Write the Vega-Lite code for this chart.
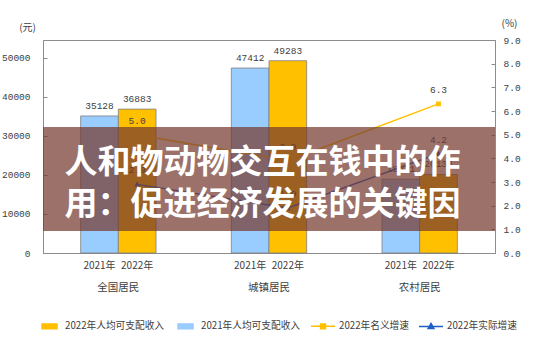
{
  "$schema": "https://vega.github.io/schema/vega-lite/v6.json",
  "width": 452,
  "height": 213,
  "autosize": {"type": "none"},
  "padding": {"left": 43, "top": 40, "right": 40, "bottom": 106},
  "background": "white",
  "config": {
    "view": {"stroke": "#8c8c8c", "strokeWidth": 1},
    "font": "Noto Sans CJK SC",
    "axis": {"domainColor": "#8c8c8c", "tickColor": "#8c8c8c", "labelColor": "#404040", "grid": false, "titleFontWeight": "normal", "titleColor": "#404040", "labelOverlap": false}
  },
  "datasets": {
    "income": [
      {"group": "全国居民", "year": "2021年", "series": "2021年人均可支配收入", "income": 35128},
      {"group": "全国居民", "year": "2022年", "series": "2022年人均可支配收入", "income": 36883},
      {"group": "城镇居民", "year": "2021年", "series": "2021年人均可支配收入", "income": 47412},
      {"group": "城镇居民", "year": "2022年", "series": "2022年人均可支配收入", "income": 49283},
      {"group": "农村居民", "year": "2021年", "series": "2021年人均可支配收入", "income": 18931},
      {"group": "农村居民", "year": "2022年", "series": "2022年人均可支配收入", "income": 20133}
    ],
    "growth": [
      {"group": "全国居民", "series": "2022年名义增速", "rate": 5.0},
      {"group": "城镇居民", "series": "2022年名义增速", "rate": 3.9},
      {"group": "农村居民", "series": "2022年名义增速", "rate": 6.3},
      {"group": "全国居民", "series": "2022年实际增速", "rate": 2.9},
      {"group": "城镇居民", "series": "2022年实际增速", "rate": 1.9},
      {"group": "农村居民", "series": "2022年实际增速", "rate": 4.2}
    ]
  },
  "layer": [
    {
      "data": {"name": "income"},
      "layer": [
        {
          "mark": {"type": "bar", "stroke": "#7f7f7f", "strokeWidth": 0.8},
          "encoding": {
            "x": {"field": "group", "type": "nominal", "sort": ["全国居民", "城镇居民", "农村居民"], "title": null,
              "scale": {"paddingInner": 0.5, "paddingOuter": 0.25},
              "axis": {"ticks": false, "labelAngle": 0, "labelPadding": 29, "labelFontSize": 10.5, "labelColor": "#404040", "domainColor": "#8c8c8c"}},
            "xOffset": {"field": "year", "type": "nominal", "sort": ["2021年", "2022年"], "scale": {"paddingInner": 0, "paddingOuter": 0}},
            "y": {"field": "income", "type": "quantitative", "title": "(元)",
              "scale": {"domain": [0, 54600], "nice": false},
              "axis": {"values": [0, 10000, 20000, 30000, 40000, 50000], "format": "d", "tickSize": -4, "labelPadding": 17,
                "labelFont": "Liberation Mono", "labelFontSize": 9.5, "titleAngle": 0, "titleX": -16, "titleY": -13,
                "titleAlign": "center", "titleBaseline": "middle", "titleFontSize": 10}},
            "color": {"field": "series", "type": "nominal",
              "scale": {"domain": ["2022年人均可支配收入", "2021年人均可支配收入", "2022年名义增速", "2022年实际增速"],
                "range": ["#ffc000", "#99ccff", "#ffc000", "#1f5fc8"]},
              "legend": {"orient": "none", "legendX": -7, "legendY": 273, "direction": "horizontal", "columns": 4, "title": null,
                "symbolSize": 576, "symbolStrokeWidth": 1.5, "labelFontSize": 9.7, "labelColor": "#404040", "labelOffset": 3,
                "columnPadding": 7, "labelLimit": 200, "padding": 0,
                "encode": {"symbols": {"update": {"stroke": {"scale": "color", "field": "value"}, "strokeWidth": {"value": 1.5}, "opacity": {"value": 1}}}}}}
          }
        },
        {
          "mark": {"type": "text", "baseline": "bottom", "dy": -5, "font": "Liberation Mono", "fontSize": 9.5, "color": "#404040"},
          "encoding": {
            "x": {"field": "group", "type": "nominal", "sort": ["全国居民", "城镇居民", "农村居民"], "title": null},
            "xOffset": {"field": "year", "type": "nominal", "sort": ["2021年", "2022年"]},
            "y": {"field": "income", "type": "quantitative"},
            "text": {"field": "income", "type": "quantitative", "format": "d"}
          }
        },
        {
          "mark": {"type": "text", "baseline": "middle", "dy": 13, "fontSize": 10, "color": "#404040"},
          "encoding": {
            "x": {"field": "group", "type": "nominal", "sort": ["全国居民", "城镇居民", "农村居民"], "title": null},
            "xOffset": {"field": "year", "type": "nominal", "sort": ["2021年", "2022年"]},
            "y": {"datum": 0, "type": "quantitative"},
            "text": {"field": "year", "type": "nominal"}
          }
        }
      ]
    },
    {
      "data": {"name": "growth"},
      "encoding": {
        "x": {"field": "group", "type": "nominal", "sort": ["全国居民", "城镇居民", "农村居民"], "bandPosition": 0.75, "title": null},
        "y": {"field": "rate", "type": "quantitative", "title": "(%)",
          "scale": {"domain": [0, 9], "nice": false},
          "axis": {"orient": "right", "values": {"expr": "[0,1,2,3,4,5,6,7,8,9]"}, "tickCount": 10, "format": ".1f", "tickSize": -4, "labelPadding": 12,
            "labelFont": "Liberation Mono", "labelFontSize": 9.5, "titleAngle": 0, "titleX": 14, "titleY": -17,
            "titleAlign": "center", "titleBaseline": "middle", "titleFontSize": 10, "labelOverlap": false}}
      },
      "layer": [
        {
          "mark": {"type": "line", "strokeWidth": 1.5},
          "encoding": {
            "color": {"field": "series", "type": "nominal"}
          }
        },
        {
          "mark": {"type": "point", "filled": true, "opacity": 1, "strokeWidth": 0, "size": 576},
          "encoding": {
            "color": {"field": "series", "type": "nominal"},
            "shape": {"field": "series", "type": "nominal",
              "scale": {"domain": ["2022年人均可支配收入", "2021年人均可支配收入", "2022年名义增速", "2022年实际增速"],
                "range": ["M-0.58,-0.2H0.67V0.2H-0.58Z", "M-0.58,-0.2H0.67V0.2H-0.58Z", "M-1,0H1M-0.2,-0.2H0.2V0.2H-0.2Z", "M-1,0H1M0,-0.25L0.24,0.18H-0.24Z"]}}
          }
        },
        {
          "mark": {"type": "text", "baseline": "bottom", "dy": -9, "font": "Liberation Mono", "fontSize": 9.5, "color": "#404040"},
          "encoding": {
            "text": {"field": "rate", "type": "quantitative", "format": ".1f"}
          }
        }
      ]
    },
    {
      "data": {"values": [{"note": "overlay"}]},
      "layer": [
        {
          "mark": {"type": "rect", "color": "#743a2f", "opacity": 0.72},
          "encoding": {
            "y": {"datum": 32300, "type": "quantitative", "scale": {"domain": [0, 54600], "nice": false}, "axis": null},
            "y2": {"datum": 5640}
          }
        },
        {
          "mark": {"type": "text", "text": "人和物动物交互在钱中的作", "fontSize": 33, "fontWeight": "bold",
            "color": "white", "baseline": "middle", "align": "center", "dx": -6.5},
          "encoding": {
            "x": {"datum": "城镇居民", "type": "nominal"},
            "y": {"datum": 23100, "type": "quantitative", "axis": null}
          }
        },
        {
          "mark": {"type": "text", "text": "用：促进经济发展的关键因", "fontSize": 33, "fontWeight": "bold",
            "color": "white", "baseline": "middle", "align": "center", "dx": -6.5},
          "encoding": {
            "x": {"datum": "城镇居民", "type": "nominal"},
            "y": {"datum": 12400, "type": "quantitative", "axis": null}
          }
        }
      ]
    }
  ],
  "resolve": {"scale": {"y": "independent"}}
}
